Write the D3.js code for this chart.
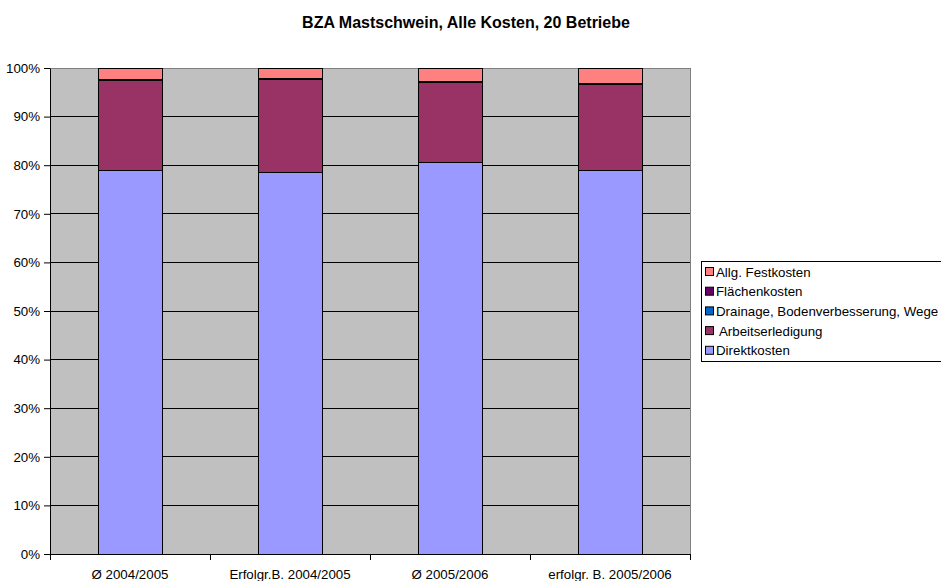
<!DOCTYPE html>
<html><head><meta charset="utf-8">
<script src="https://cdn.jsdelivr.net/npm/d3@7"></script>
<style>body{margin:0;background:#fff;} svg{display:block;font-family:"Liberation Sans",Arial,sans-serif;}</style>
</head><body>
<svg id="c" width="941" height="581"></svg>
<script>
const categories = ["Ø 2004/2005", "Erfolgr.B. 2004/2005", "Ø 2005/2006", "erfolgr. B. 2005/2006"];
const direktkosten = [78.9, 78.6, 80.6, 79.0];
const arbeitserledigung = [18.5, 19.0, 16.5, 17.6];
const drainage = [0.1, 0.1, 0.1, 0.1];
const flaechenkosten = [0.1, 0.2, 0.1, 0.1];
const festkosten = [2.4, 2.1, 2.7, 3.2];
const seriesNames = ["Direktkosten", " Arbeitserledigung", "Drainage, Bodenverbesserung, Wege", "Flächenkosten", "Allg. Festkosten"];
const seriesColors = ["#9999FF", "#993366", "#0066CC", "#660066", "#FF8080"];
const yTicks = [0,10,20,30,40,50,60,70,80,90,100];
const title = "BZA Mastschwein, Alle Kosten, 20 Betriebe";

const seriesVals = [direktkosten, arbeitserledigung, drainage, flaechenkosten, festkosten];
const rows = categories.map((c,i)=>{const r={cat:c}; seriesNames.forEach((s,j)=>r[s]=seriesVals[j][i]); return r;});
const stack = d3.stack().keys(seriesNames)(rows);

const FONT = "Liberation Sans, Arial, sans-serif";
const FS = 13.3;
const svg = d3.select("#c");
const L=50,R=690,T=68,B=554;
const x = d3.scaleBand().domain(categories).range([L,R]).paddingInner(0.6).paddingOuter(0.3);
const y = d3.scaleLinear().domain([0,100]).range([B,T]);

svg.append("text").attr("x",466).attr("y",27.5).attr("text-anchor","middle")
  .attr("font-size",16).attr("font-weight","bold").attr("font-family",FONT).text(title);

svg.append("rect").attr("x",L).attr("y",T).attr("width",R-L).attr("height",B-T).attr("fill","#C0C0C0");
svg.append("g").selectAll("line").data(yTicks.filter(t=>t>0)).join("line")
  .attr("x1",L).attr("x2",R).attr("y1",d=>y(d)).attr("y2",d=>y(d))
  .attr("stroke",d=>d===100?"#808080":"#000").attr("stroke-width",1).attr("shape-rendering","crispEdges");
svg.append("line").attr("x1",R).attr("x2",R).attr("y1",T).attr("y2",B).attr("stroke","#808080").attr("shape-rendering","crispEdges");

const g = svg.append("g");
stack.forEach((s,j)=>{
  g.selectAll(null).data(s).join("rect")
    .attr("x",d=>x(d.data.cat)).attr("width",x.bandwidth())
    .attr("y",d=>y(d[1])).attr("height",d=>y(d[0])-y(d[1]))
    .attr("fill",seriesColors[j]).attr("stroke","#000").attr("stroke-width",1).attr("shape-rendering","crispEdges");
});

// y axis
const ya = svg.append("g").attr("transform",`translate(${L},0)`)
  .call(d3.axisLeft(y).tickValues(yTicks).tickFormat(d=>d+"%").tickSize(6).tickSizeOuter(0));
ya.attr("font-family",FONT).attr("font-size",FS);
ya.select(".domain").attr("stroke","#000");
ya.selectAll("text").attr("font-size",FS).attr("font-family",FONT).attr("fill","#000").attr("x",-10);
ya.selectAll("line").attr("stroke","#000");

// x axis
const xa = svg.append("g").attr("transform",`translate(0,${B})`);
xa.append("line").attr("x1",L).attr("x2",R).attr("y1",0).attr("y2",0).attr("stroke","#000").attr("shape-rendering","crispEdges");
const bounds = d3.range(categories.length+1).map(i=>L + i*x.step());
xa.selectAll("line.t").data(bounds).join("line").attr("class","t")
  .attr("x1",d=>d).attr("x2",d=>d).attr("y1",0).attr("y2",6).attr("stroke","#000").attr("shape-rendering","crispEdges");
xa.selectAll("text").data(categories).join("text")
  .attr("x",d=>x(d)+x.bandwidth()/2).attr("y",24.5).attr("text-anchor","middle")
  .attr("font-size",FS).attr("font-family",FONT).text(d=>d);

// legend
const lg = svg.append("g");
lg.append("rect").attr("x",701.5).attr("y",261.5).attr("width",250).attr("height",100).attr("fill","#fff").attr("stroke","#000");
const legendOrder = seriesNames.map((n,i)=>({n,c:seriesColors[i]})).reverse();
legendOrder.forEach((d,i)=>{
  const yy = 272 + i*19.7;
  lg.append("rect").attr("x",705.5).attr("y",yy-4.5).attr("width",8).attr("height",8).attr("fill",d.c).attr("stroke","#000");
  lg.append("text").attr("x",716).attr("y",yy+4.5).attr("font-size",FS).attr("font-family",FONT)
    .style("white-space","pre").text(d.n);
});
</script>
</body></html>
